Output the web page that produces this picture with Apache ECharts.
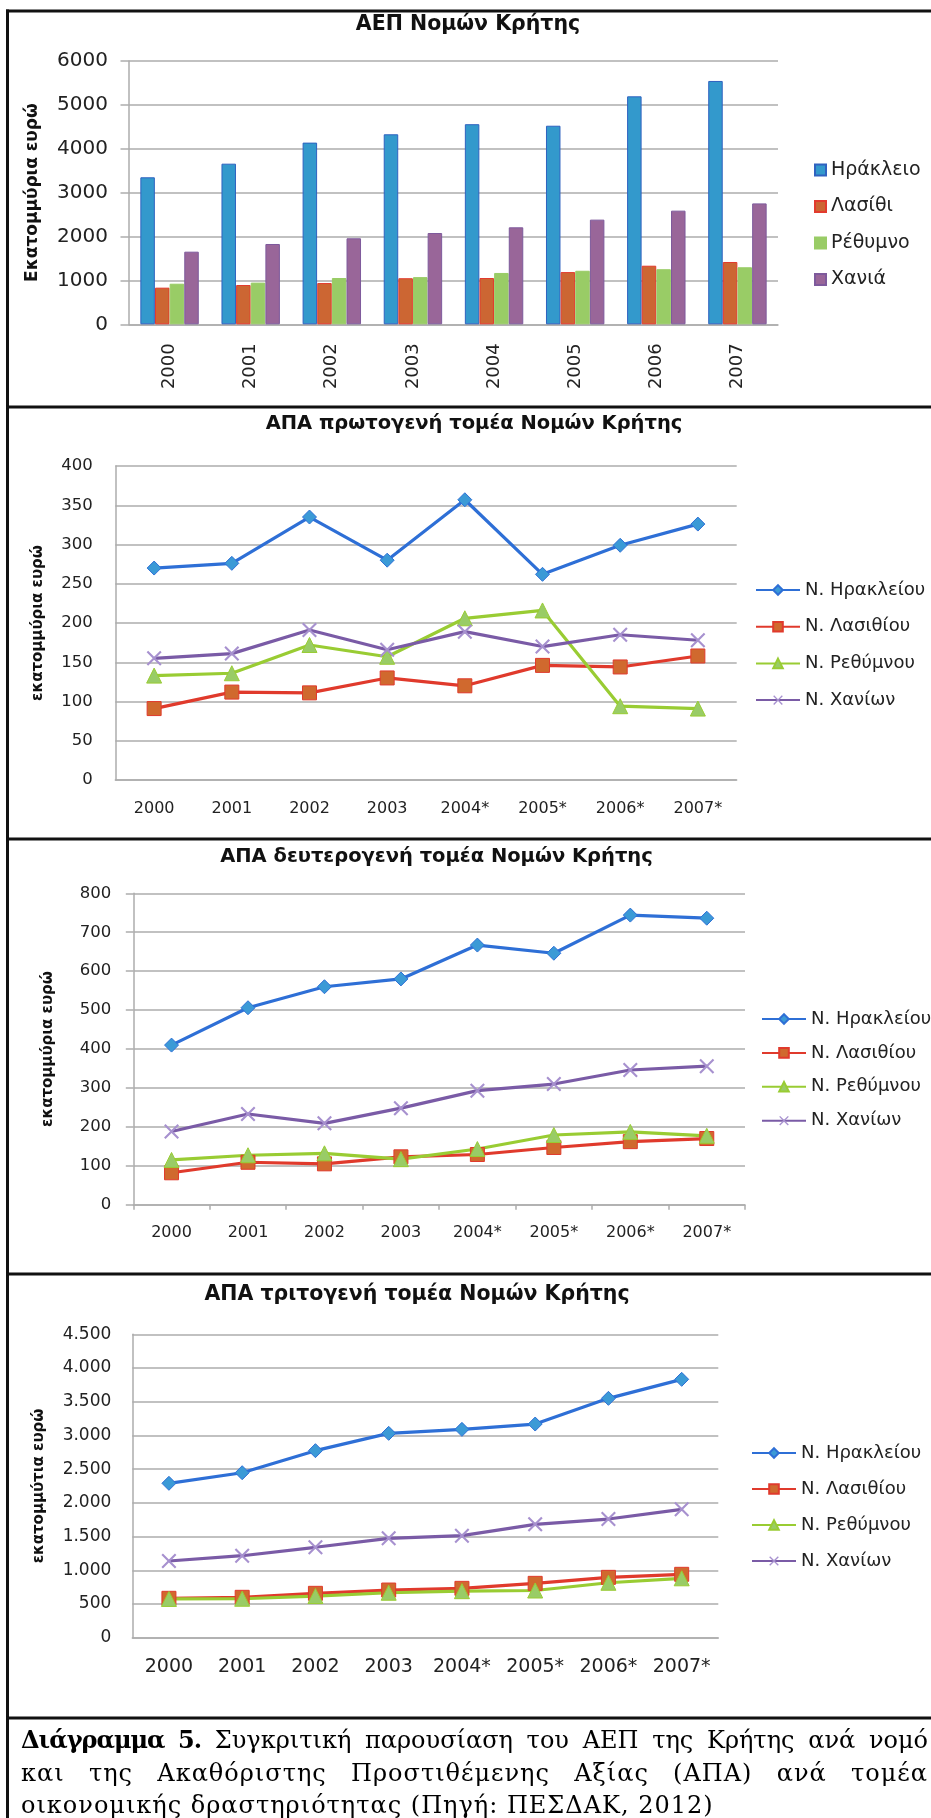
<!DOCTYPE html>
<html><head><meta charset="utf-8">
<script src="https://cdn.jsdelivr.net/npm/echarts@6/dist/echarts.min.js"></script>
<style>
html,body{margin:0;padding:0;background:#fff;}
#wrap{position:relative;width:931px;height:1818px;overflow:hidden;background:#fff;}
#chart{position:absolute;left:0;top:0;width:931px;height:1818px;}
.cap{position:absolute;left:21px;width:907px;font-family:"DejaVu Serif";font-size:24px;letter-spacing:1px;line-height:32px;color:#000;white-space:nowrap;}
.j{text-align:justify;text-align-last:justify;white-space:normal;}
.l1{letter-spacing:0px;}
.cap b{letter-spacing:-1px;}
</style></head>
<body>
<div id="wrap">
<div id="chart"></div>
<div class="cap j l1" style="top:1724px;"><b>Διάγραμμα 5.</b> Συγκριτική παρουσίαση του ΑΕΠ της Κρήτης ανά νομό</div>
<div class="cap j" style="top:1757px;">και της Ακαθόριστης Προστιθέμενης Αξίας (ΑΠΑ) ανά τομέα</div>
<div class="cap" style="top:1789px;">οικονομικής δραστηριότητας (Πηγή: ΠΕΣΔΑΚ, 2012)</div>
</div>
<script>
// ---------- data ----------
const years = ['2000','2001','2002','2003','2004','2005','2006','2007'];
const yearsStar = ['2000','2001','2002','2003','2004*','2005*','2006*','2007*'];

const gdpNames = ['Ηράκλειο','Λασίθι','Ρέθυμνο','Χανιά'];
const gdpHeraklion = [3350, 3660, 4140, 4330, 4560, 4525, 5195, 5545];
const gdpLasithi   = [835, 895, 940, 1050, 1055, 1190, 1335, 1420];
const gdpRethymno  = [925, 950, 1055, 1075, 1170, 1220, 1255, 1300];
const gdpChania    = [1655, 1830, 1960, 2080, 2210, 2385, 2590, 2755];

const lineNames = ['Ν. Ηρακλείου','Ν. Λασιθίου','Ν. Ρεθύμνου','Ν. Χανίων'];
const primHeraklion = [270, 276, 335, 280, 357, 262, 299, 326];
const primLasithi   = [91, 112, 111, 130, 120, 146, 144, 158];
const primRethymno  = [133, 136, 172, 157, 206, 216, 94, 91];
const primChania    = [155, 161, 191, 166, 189, 170, 185, 178];

const secHeraklion = [410, 506, 560, 580, 667, 646, 744, 736];
const secLasithi   = [82, 109, 105, 123, 129, 147, 162, 170];
const secRethymno  = [115, 127, 132, 117, 143, 179, 187, 177];
const secChania    = [188, 233, 209, 248, 293, 310, 346, 356];

const terHeraklion = [2290, 2447, 2774, 3031, 3090, 3169, 3550, 3832];
const terLasithi   = [584, 599, 658, 707, 732, 806, 895, 940];
const terRethymno  = [575, 578, 618, 667, 690, 700, 815, 881];
const terChania    = [1138, 1216, 1341, 1474, 1513, 1681, 1760, 1904];

const titles = ['ΑΕΠ Νομών Κρήτης','ΑΠΑ πρωτογενή τομέα Νομών Κρήτης','ΑΠΑ δευτερογενή τομέα Νομών Κρήτης','ΑΠΑ τριτογενή τομέα Νομών Κρήτης'];
const yNames = ['Εκατομμύρια ευρώ','εκατομμύρια ευρώ','εκατομμύρια ευρώ','εκατομμύτια ευρώ'];

// ---------- styles ----------
const FONT = 'DejaVu Sans';
const GRID_C = '#ADADAD';
const barFill = ['#3399CC','#CC6633','#99CC66','#996699'];
const barBorder = ['#2F62C0','#E23B2E','#99CC66','#7E5A9C'];
const lineCol = ['#2E6FD6','#E03A2C','#99CC33','#7A5BA6'];
const symFill = ['#3B9AD6','#D0692E','#99CC66','#A791CF'];
const symbols = ['diamond','rect','triangle','path://M0,1L1,0L5,4L9,0L10,1L6,5L10,9L9,10L5,6L1,10L0,9L4,5Z'];
const symSizes = [14, 14, 15, 15];

const grids = [
  {left:129, top:61, width:649, height:263.3},
  {left:115.3, top:466, width:621.4, height:314},
  {left:133.3, top:893.3, width:611.7, height:311.4},
  {left:132.3, top:1334.3, width:586, height:303.4}
];
const titlePos = [[468,25],[474,424],[436.5,857],[417,1295]];
const titleSize = [20.5,19.5,19.5,20.5];

function plain(v){ return String(v); }
function thou(v){ return String(v).replace(/\B(?=(\d{3})+(?!\d))/g,'.'); }

const yAxisCfg = [
  {min:0,max:6000,interval:1000,font:20,margin:21,tick:8.5,nameSize:17,nameGap:88,fmt:plain},
  {min:0,max:400,interval:50,font:16.5,margin:22.5,tick:0,nameSize:15,nameGap:70,fmt:plain},
  {min:0,max:800,interval:100,font:16.5,margin:22,tick:7.5,nameSize:15,nameGap:78,fmt:plain},
  {min:0,max:4500,interval:500,font:17,margin:21,tick:0,nameSize:15,nameGap:86,fmt:thou}
];

const xAxes = [
  {gridIndex:0,type:'category',data:years,
   axisLine:{show:true,lineStyle:{color:GRID_C,width:1.5}},axisTick:{show:false},
   axisLabel:{interval:0,rotate:90,margin:19,fontFamily:FONT,fontSize:18,color:'#222'}},
  {gridIndex:1,type:'category',data:yearsStar,
   axisLine:{show:true,lineStyle:{color:GRID_C,width:1.5}},axisTick:{show:false},
   axisLabel:{interval:0,margin:21,fontFamily:FONT,fontSize:16,color:'#222'}},
  {gridIndex:2,type:'category',data:yearsStar,
   axisLine:{show:true,lineStyle:{color:GRID_C,width:1.5}},axisTick:{show:true,length:5,lineStyle:{color:GRID_C,width:1.5}},
   axisLabel:{interval:0,margin:20,fontFamily:FONT,fontSize:16,color:'#222'}},
  {gridIndex:3,type:'category',data:yearsStar,
   axisLine:{show:true,lineStyle:{color:GRID_C,width:1.5}},axisTick:{show:false},
   axisLabel:{interval:0,margin:20,fontFamily:FONT,fontSize:19,color:'#222'}}
];

const yAxes = yAxisCfg.map((c,i)=>({
  gridIndex:i,type:'value',min:c.min,max:c.max,interval:c.interval,
  name:yNames[i],nameLocation:'middle',nameRotate:90,nameGap:c.nameGap,
  nameTextStyle:{fontFamily:FONT,fontWeight:'bold',fontSize:c.nameSize,color:'#111'},
  axisLine:{show:true,lineStyle:{color:GRID_C,width:1.5}},
  axisTick:{show:c.tick>0,length:c.tick,lineStyle:{color:GRID_C,width:1.5}},
  splitLine:{show:true,lineStyle:{color:GRID_C,width:1.5}},
  axisLabel:{margin:c.margin,fontFamily:FONT,fontSize:c.font,color:'#222',formatter:c.fmt}
}));

const series = [];
[gdpHeraklion,gdpLasithi,gdpRethymno,gdpChania].forEach((d,k)=>{
  series.push({type:'bar',name:gdpNames[k],xAxisIndex:0,yAxisIndex:0,data:d,
    barWidth:14.5,barGap:'1%',
    itemStyle:{color:barFill[k],borderColor:barBorder[k],borderWidth:1}});
});
const lineSets = [
  [primHeraklion,primLasithi,primRethymno,primChania],
  [secHeraklion,secLasithi,secRethymno,secChania],
  [terHeraklion,terLasithi,terRethymno,terChania]
];
lineSets.forEach((set,g)=>{
  set.forEach((d,k)=>{
    series.push({type:'line',name:lineNames[k],xAxisIndex:g+1,yAxisIndex:g+1,data:d,
      symbol:symbols[k],symbolSize:symSizes[k],
      lineStyle:{color:lineCol[k],width:3.2},
      itemStyle:{color:symFill[k],borderColor:k===3?symFill[k]:lineCol[k],borderWidth:k===3?0:1},
      emphasis:{disabled:true}});
  });
});

const legends = [
  {data:gdpNames,left:814,top:160,itemGap:16.5,itemWidth:11,itemHeight:11,icon:'rect',fontSize:19},
  {data:lineNames,left:755,top:580,itemGap:16.7,itemWidth:44,itemHeight:12,fontSize:18},
  {data:lineNames,left:761,top:1009,itemGap:13.9,itemWidth:44,itemHeight:12,fontSize:18},
  {data:lineNames,left:751,top:1443,itemGap:16,itemWidth:44,itemHeight:12,fontSize:18}
].map(l=>{
  const o = {orient:'vertical',left:l.left,top:l.top,itemGap:l.itemGap,itemWidth:l.itemWidth,itemHeight:l.itemHeight,
    padding:0,data:l.data,selectedMode:false,
    textStyle:{fontFamily:FONT,fontSize:l.fontSize,color:'#222',lineHeight:20}};
  if(l.icon) o.icon = l.icon;
  return o;
});

const title = titles.map((t,i)=>({
  text:t,left:titlePos[i][0],top:titlePos[i][1],textAlign:'center',textVerticalAlign:'middle',padding:0,
  textStyle:{fontFamily:FONT,fontWeight:'bold',fontSize:titleSize[i],color:'#111'}
}));

const B = '#111';
const graphic = [
  {type:'line',shape:{x1:7.5,y1:9.5,x2:7.5,y2:1818},style:{stroke:B,lineWidth:3}},
  {type:'line',shape:{x1:6,y1:11,x2:931,y2:11},style:{stroke:B,lineWidth:3}},
  {type:'line',shape:{x1:6,y1:407,x2:931,y2:407},style:{stroke:B,lineWidth:3}},
  {type:'line',shape:{x1:6,y1:839,x2:931,y2:839},style:{stroke:B,lineWidth:3}},
  {type:'line',shape:{x1:6,y1:1274,x2:931,y2:1274},style:{stroke:B,lineWidth:3}},
  {type:'line',shape:{x1:6,y1:1718,x2:931,y2:1718},style:{stroke:B,lineWidth:3}}
];

const chart = echarts.init(document.getElementById('chart'),null,{renderer:'canvas'});
chart.setOption({
  animation:false,
  backgroundColor:'transparent',
  title:title,
  legend:legends,
  grid:grids,
  xAxis:xAxes,
  yAxis:yAxes,
  series:series,
  graphic:graphic
});
</script>
</body></html>
